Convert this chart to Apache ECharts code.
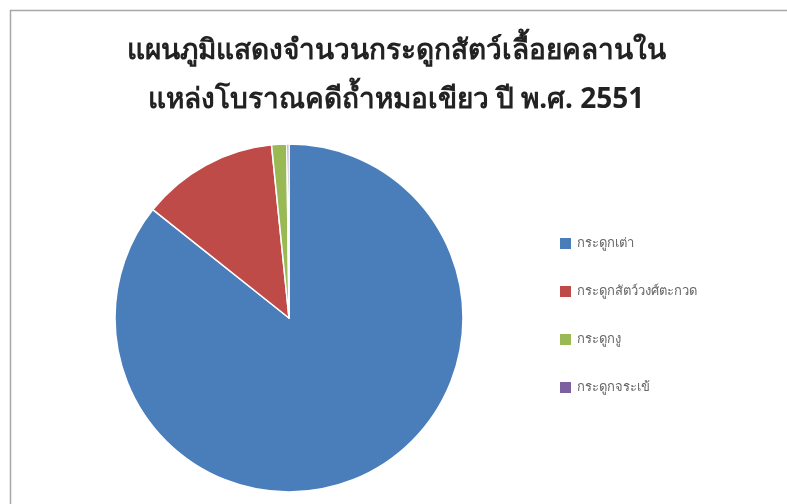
<!DOCTYPE html>
<html>
<head>
<meta charset="utf-8">
<script src="https://cdn.jsdelivr.net/npm/echarts@6/dist/echarts.min.js"></script>
<style>
  html, body { margin: 0; padding: 0; background: #fff; }
  #chart { width: 787px; height: 504px; }
</style>
</head>
<body>
<div id="chart"></div>
<script>
// ข้อมูลจำนวนกระดูก (ประมาณจากภาพ, ร้อยละ)
const titleLines = ["แผนภูมิแสดงจำนวนกระดูกสัตว์เลื้อยคลานใน", "แหล่งโบราณคดีถ้ำหมอเขียว ปี พ.ศ. 2551"];
const categories = ["กระดูกเต่า", "กระดูกสัตว์วงศ์ตะกวด", "กระดูกงู", "กระดูกจระเข้"];
const values = [85.7, 12.7, 1.4, 0.2];
const colors = ["#4a7ebb", "#be4b48", "#98b954", "#7d60a0"];

const chart = echarts.init(document.getElementById("chart"));

const option = {
  animation: false,
  color: colors,
  title: {
    text: titleLines.join("\n"),
    left: 391,
    top: 22,
    textAlign: "center",
    textStyle: {
      fontSize: 28,
      fontWeight: "bold",
      color: "#222",
      lineHeight: 49,
      fontFamily: "Tahoma, 'Noto Sans', sans-serif"
    }
  },
  legend: {
    orient: "vertical",
    left: 553,
    top: 231,
    itemWidth: 13,
    itemHeight: 13,
    itemGap: 33,
    icon: "rect",
    textStyle: { fontSize: 13, color: "#666", fontFamily: "'Noto Sans', sans-serif" },
    data: categories
  },
  graphic: [{
    type: "rect",
    shape: { x: 10.5, y: 10.5, width: 800, height: 520 },
    style: { fill: "none", stroke: "#a6a6a6", lineWidth: 1.5 },
    silent: true
  }],
  series: [{
    type: "pie",
    center: [289, 318],
    radius: 174,
    startAngle: 90,
    clockwise: true,
    label: { show: false },
    labelLine: { show: false },
    itemStyle: { borderColor: "#fff", borderWidth: 1.5 },
    data: categories.map((name, i) => ({ name, value: values[i] }))
  }]
};

chart.setOption(option);
</script>
</body>
</html>
